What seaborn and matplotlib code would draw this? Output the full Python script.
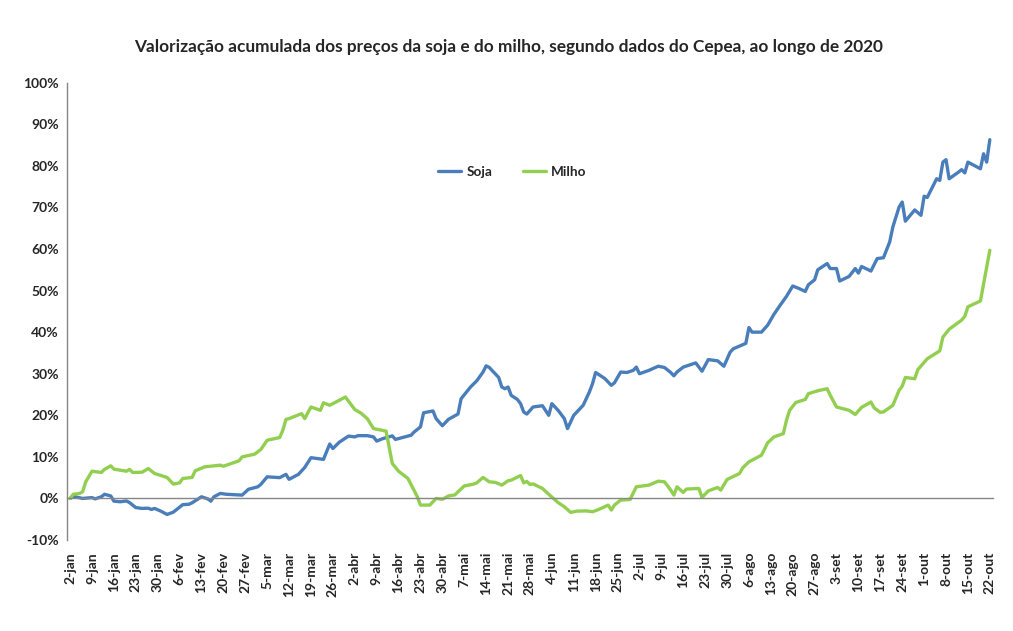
import pandas as pd
import seaborn as sns
import matplotlib.pyplot as plt
import matplotlib.ticker as mticker

sns.set_style('white')
plt.rcParams['font.family'] = ['Lato', 'DejaVu Sans']
plt.rcParams['font.weight'] = 'bold'

titulo = 'Valorização acumulada dos preços da soja e do milho, segundo dados do Cepea, ao longo de 2020'
meses = ['jan', 'fev', 'mar', 'abr', 'mai', 'jun', 'jul', 'ago', 'set', 'out']

# Soja - valorização acumulada (%)
soja_datas = ['02/01', '03/01', '06/01', '09/01', '10/01', '12/01', '13/01', '15/01', '16/01', '18/01',
              '20/01', '21/01', '23/01', '25/01', '27/01', '28/01', '29/01', '31/01',
              '02/02', '04/02', '05/02', '07/02', '09/02', '10/02', '12/02', '13/02', '15/02', '16/02',
              '17/02', '19/02', '21/02', '26/02', '28/02',
              '02/03', '03/03', '05/03', '09/03', '11/03', '12/03', '15/03', '17/03', '19/03', '23/03',
              '25/03', '26/03', '28/03', '31/03',
              '02/04', '03/04', '06/04', '08/04', '09/04', '11/04', '14/04', '15/04', '18/04', '20/04',
              '21/04', '23/04', '24/04', '27/04', '28/04', '30/04',
              '02/05', '05/05', '06/05', '09/05', '11/05', '13/05', '14/05', '15/05', '18/05', '19/05',
              '20/05', '21/05', '22/05', '24/05', '25/05', '26/05', '27/05', '29/05',
              '01/06', '03/06', '04/06', '06/06', '08/06', '09/06', '11/06', '14/06', '16/06', '17/06',
              '18/06', '21/06', '23/06', '24/06', '26/06', '28/06', '30/06',
              '01/07', '02/07', '05/07', '08/07', '10/07', '12/07', '13/07', '14/07', '16/07', '20/07',
              '22/07', '24/07', '27/07', '29/07', '31/07',
              '01/08', '05/08', '06/08', '07/08', '10/08', '12/08', '14/08', '16/08', '18/08', '20/08',
              '22/08', '24/08', '25/08', '27/08', '28/08', '31/08',
              '01/09', '03/09', '04/09', '07/09', '09/09', '10/09', '11/09', '14/09', '16/09', '18/09',
              '20/09', '21/09', '23/09', '24/09', '25/09', '28/09', '30/09',
              '01/10', '02/10', '05/10', '06/10', '07/10', '08/10', '09/10', '12/10', '13/10', '14/10',
              '15/10', '19/10', '20/10', '21/10', '22/10']
soja_valores = [0.0, 0.5, 0.0, 0.2, -0.1, 0.4, 1.0, 0.6, -0.65, -0.8,
                -0.6, -1.0, -2.2, -2.4, -2.35, -2.65, -2.4, -3.05,
                -3.85, -3.3, -2.7, -1.5, -1.4, -1.05, -0.1, 0.4, -0.1, -0.65,
                0.4, 1.2, 1.0, 0.8, 2.2,
                2.8, 3.4, 5.2, 5.0, 5.8, 4.6, 5.8, 7.45, 9.8, 9.4,
                13.1, 12.0, 13.5, 15.0,
                14.8, 15.1, 15.1, 14.8, 13.8, 14.4, 15.05, 14.2, 14.8, 15.2,
                16.0, 17.2, 20.6, 21.05, 19.2, 17.5,
                19.05, 20.3, 24.0, 26.8, 28.3, 30.4, 31.9, 31.5, 29.1, 26.8,
                26.4, 26.8, 24.8, 23.8, 22.8, 20.8, 20.3, 22.0,
                22.3, 20.0, 22.8, 21.2, 19.2, 16.8, 20.0, 22.4, 25.6, 27.6,
                30.3, 28.8, 27.2, 27.8, 30.4, 30.3, 30.8,
                31.6, 30.0, 30.8, 31.8, 31.5, 30.3, 29.5, 30.4, 31.6, 32.6,
                30.6, 33.4, 33.1, 31.8, 35.2,
                36.0, 37.3, 41.1, 40.0, 40.0, 41.7, 44.3, 46.5, 48.6, 51.1,
                50.5, 49.8, 51.4, 52.6, 55.0, 56.5,
                55.3, 55.3, 52.3, 53.4, 55.3, 54.2, 55.8, 54.7, 57.7, 57.9,
                61.7, 65.3, 70.1, 71.3, 66.7, 69.4, 68.1,
                72.7, 72.4, 76.9, 76.5, 80.9, 81.5, 76.9, 78.5, 79.1, 78.3,
                80.9, 79.3, 82.9, 80.9, 86.3]

# Milho - valorização acumulada (%)
milho_datas = ['02/01', '03/01', '05/01', '06/01', '07/01', '09/01', '12/01', '13/01', '15/01', '16/01',
               '20/01', '21/01', '22/01', '25/01', '27/01', '29/01',
               '02/02', '04/02', '06/02', '07/02', '10/02', '11/02', '14/02', '18/02', '19/02', '20/02',
               '25/02', '26/02',
               '01/03', '03/03', '05/03', '09/03', '10/03', '11/03', '12/03', '16/03', '17/03', '19/03',
               '22/03', '23/03', '25/03', '30/03',
               '02/04', '04/04', '06/04', '07/04', '08/04', '12/04', '14/04', '16/04', '19/04', '22/04',
               '23/04', '26/04', '28/04', '30/04',
               '02/05', '04/05', '05/05', '07/05', '10/05', '11/05', '13/05', '15/05', '17/05', '19/05',
               '21/05', '22/05', '25/05', '26/05', '27/05', '28/05', '29/05',
               '01/06', '03/06', '06/06', '08/06', '10/06', '12/06', '15/06', '17/06', '19/06', '22/06',
               '23/06', '24/06', '26/06', '29/06',
               '01/07', '02/07', '05/07', '08/07', '10/07', '12/07', '13/07', '14/07', '16/07', '17/07',
               '21/07', '22/07', '24/07', '27/07', '28/07', '30/07',
               '03/08', '04/08', '06/08', '10/08', '12/08', '14/08', '17/08', '18/08', '19/08', '21/08',
               '24/08', '25/08', '28/08', '31/08',
               '01/09', '03/09', '07/09', '09/09', '11/09', '14/09', '15/09', '17/09', '18/09', '21/09',
               '23/09', '24/09', '25/09', '28/09', '29/09',
               '02/10', '06/10', '07/10', '09/10', '13/10', '14/10', '15/10', '19/10', '22/10']
milho_valores = [0.0, 1.0, 1.2, 1.6, 4.0, 6.55, 6.25, 7.0, 7.85, 7.05,
                 6.55, 7.0, 6.25, 6.3, 7.2, 6.0,
                 5.05, 3.45, 3.75, 4.8, 5.05, 6.65, 7.6, 7.9, 8.0, 7.75,
                 9.05, 10.0,
                 10.65, 11.8, 14.0, 14.65, 16.4, 19.0, 19.2, 20.4, 19.2, 22.0,
                 21.2, 23.0, 22.4, 24.4,
                 21.4, 20.5, 19.2, 18.0, 16.8, 16.2, 8.4, 6.55, 4.8, 0.4,
                 -1.6, -1.6, 0.0, -0.2,
                 0.6, 0.85, 1.6, 3.0, 3.45, 3.75, 5.05, 4.0, 3.85, 3.2,
                 4.25, 4.4, 5.5, 3.75, 4.1, 3.35, 3.5,
                 2.4, 1.0, -1.0, -2.0, -3.35, -3.05, -3.0, -3.2, -2.65, -1.6,
                 -2.8, -1.6, -0.4, -0.25,
                 2.8, 2.9, 3.2, 4.15, 4.0, 2.0, 0.8, 2.8, 1.45, 2.25,
                 2.4, 0.25, 1.8, 2.65, 2.0, 4.55,
                 6.0, 7.35, 8.8, 10.4, 13.4, 14.8, 15.6, 18.8, 21.2, 23.1,
                 23.8, 25.2, 25.9, 26.4,
                 24.8, 22.0, 21.2, 20.2, 21.9, 23.2, 21.8, 20.7, 20.8, 22.4,
                 26.0, 27.0, 29.1, 28.8, 31.0,
                 33.6, 35.5, 38.8, 40.7, 42.9, 43.8, 46.1, 47.5, 59.7]

df = pd.concat([
    pd.DataFrame({'data': soja_datas, 'valor': soja_valores, 'serie': 'Soja'}),
    pd.DataFrame({'data': milho_datas, 'valor': milho_valores, 'serie': 'Milho'}),
])
df['data'] = pd.to_datetime(df['data'] + '/2020', format='%d/%m/%Y')

cores = {'Soja': '#4a7ebb', 'Milho': '#92cf50'}

fig = plt.figure(figsize=(10.13, 6.31), dpi=100)
ax = fig.add_axes([0.0661, 0.1442, 0.9141, 0.7247])

sns.lineplot(data=df, x='data', y='valor', hue='serie', palette=cores,
             linewidth=2.4, ax=ax)

ax.set_xlim(pd.Timestamp('2020-01-01'), pd.Timestamp('2020-10-23'))
ax.set_ylim(-10, 100)
ax.set_xlabel('')
ax.set_ylabel('')

# eixo x passando pelo zero, rótulos embaixo
semanas = pd.date_range('2020-01-02', '2020-10-22', freq='7D')
ax.set_xticks(semanas)
ax.set_xticklabels([f'{d.day}-{meses[d.month - 1]}' for d in semanas], fontsize=9.5)
ax.spines['bottom'].set_position(('data', 0))
ax.tick_params(axis='x', direction='out', length=4.5, width=1, color='#868686',
               pad=34, labelrotation=90)
for t in ax.get_xticklabels():
    t.set_verticalalignment('top')
    t.set_horizontalalignment('center')

ax.set_yticks(range(-10, 101, 10))
ax.yaxis.set_major_formatter(mticker.FuncFormatter(lambda v, p: f'{v:.0f}%'))
ax.tick_params(axis='y', direction='out', length=4, width=1, color='#868686', pad=2, labelsize=10)

for s in ['top', 'right']:
    ax.spines[s].set_visible(False)
for s in ['left', 'bottom']:
    ax.spines[s].set_color('#868686')
    ax.spines[s].set_linewidth(1)

h, l = ax.get_legend_handles_labels()
ax.legend(h, l, ncol=2, loc='center', bbox_to_anchor=(0.481, 0.805), frameon=False,
          handlelength=1.7, handletextpad=0.4, columnspacing=2.2, prop={'size': 9.8, 'weight': 'bold'})

fig.text(0.502, 1 - 47 / 631, titulo, ha='center', va='center', fontsize=12.4, fontweight='bold')

fig.savefig('out.png', dpi=100)
